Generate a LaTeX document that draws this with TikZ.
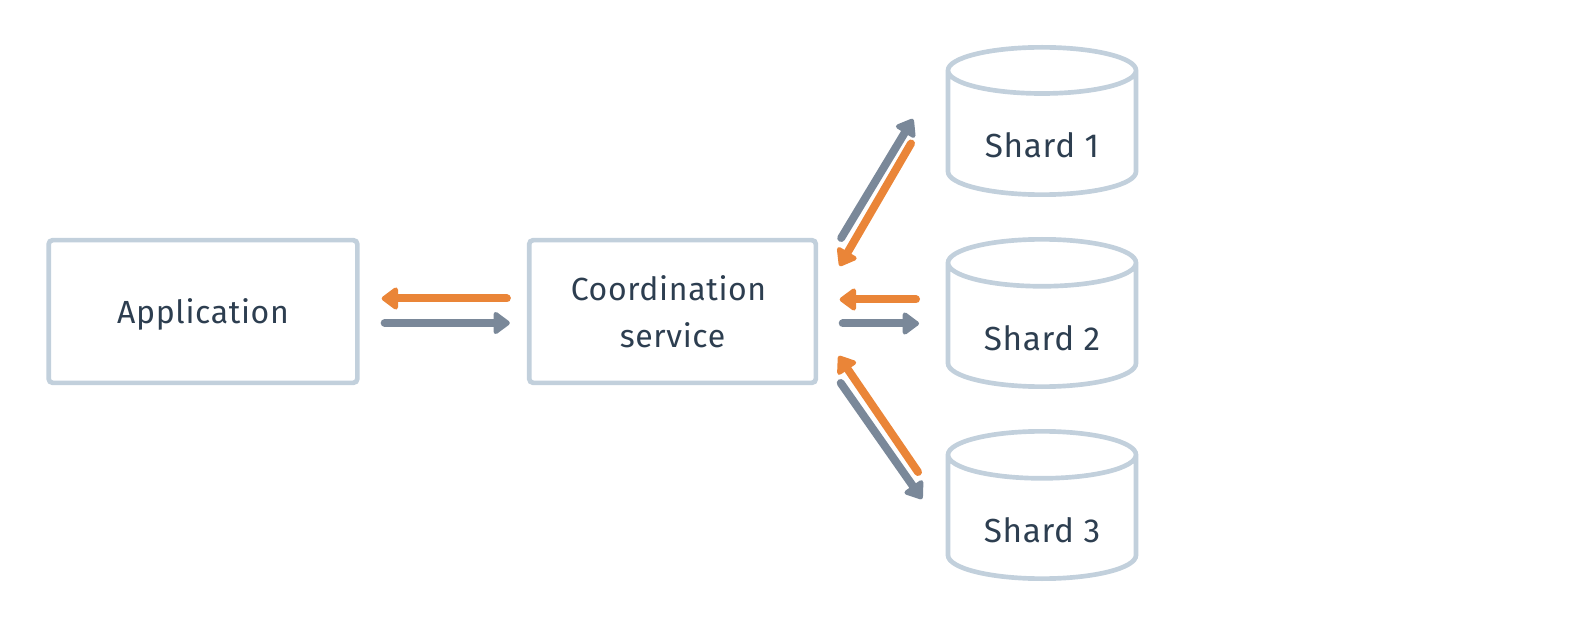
\documentclass[tikz,border=0pt]{standalone}
\usepackage{fontspec}
\setmainfont[LetterSpace=2]{Fira Sans}
\usetikzlibrary{shapes.geometric,arrows.meta,positioning}

\definecolor{boxline}{HTML}{C2D0DC}
\definecolor{textdark}{HTML}{2D3E50}
\definecolor{reqgray}{HTML}{7A8899}
\definecolor{resporange}{HTML}{EA8538}

\tikzset{
    box/.style={draw=boxline, line width=3.5pt, rounded corners=3pt, minimum height=107pt, align=center, text=textdark, font=\fontsize{24}{35}\selectfont},
    shard/.style={cylinder, shape border rotate=90, aspect=0.375, draw=boxline, line width=3.5pt, minimum width=141pt, minimum height=110.5pt, text height=31pt, text depth=0pt, text=textdark, font=\fontsize{25}{35}\selectfont},
    request/.style={draw=reqgray, line width=6pt, line cap=round, -{Triangle[length=13.5pt,width=19pt,round]}},
    response/.style={draw=resporange, line width=6pt, line cap=round, -{Triangle[length=13.5pt,width=19pt,round]}},
}

\begin{document}
\begin{tikzpicture}[x=0.75pt, y=-0.75pt]
    \useasboundingbox (0,0) rectangle (1571,627);

    % Nodes
    \node[box, minimum width=231.5pt, text depth=0pt] (app) at (203,311.5) {Application};
    \node[box, minimum width=215pt, right=125.4pt of app] (coord) {Coordination\kern6pt\\service};
    \node[shard, anchor=shape center] (shard2) at (1042,313) {Shard 2};
    \node[shard, above=30pt of shard2] (shard1) {Shard 1};
    \node[shard, below=30pt of shard2] (shard3) {Shard 3};

    % Arrows
    \draw[response] ([shift={(-20,-13)}]coord.west) -- ([shift={(22,-13)}]app.east);
    \draw[request] ([shift={(25,11.5)}]app.east) -- ([shift={(-17,11.5)}]coord.west);
    \draw[request] ([shift={(23,-73.5)}]coord.east) -- ([shift={(-129,-2)}]shard1.shape center);
    \draw[response] ([shift={(-131,22.5)}]shard1.shape center) -- ([shift={(21.5,-45.5)}]coord.east);
    \draw[response] ([shift={(-126,-13.5)}]shard2.shape center) -- ([shift={(21.5,-12)}]coord.east);
    \draw[request] ([shift={(24.5,12)}]coord.east) -- ([shift={(-123,10.5)}]shard2.shape center);
    \draw[response] ([shift={(-124,-33)}]shard3.shape center) -- ([shift={(20.5,44.5)}]coord.east);
    \draw[request] ([shift={(22.5,71.5)}]coord.east) -- ([shift={(-120,-6)}]shard3.shape center);
\end{tikzpicture}
\end{document}
